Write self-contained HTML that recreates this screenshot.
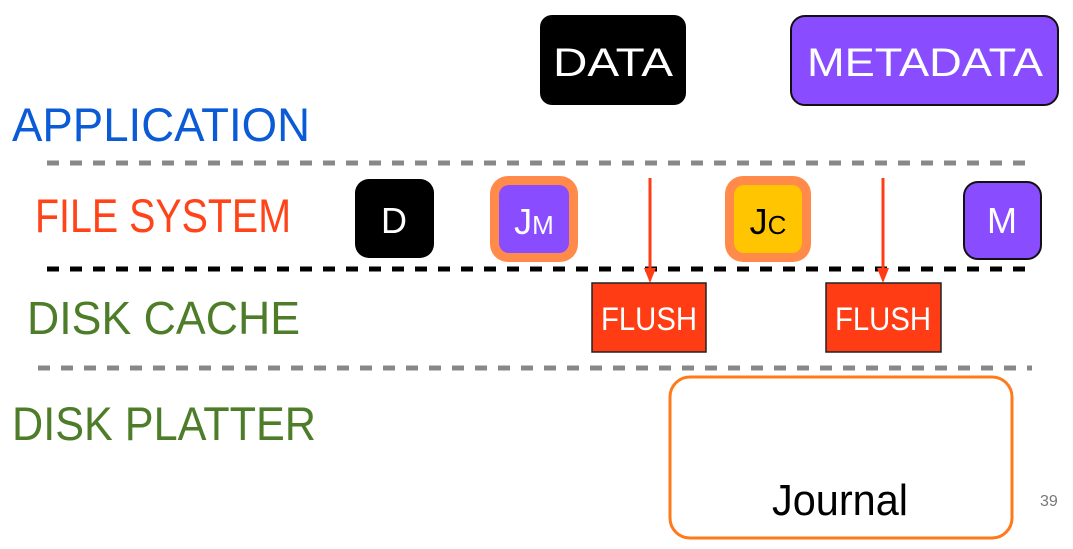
<!DOCTYPE html>
<html><head><meta charset="utf-8"><style>
html,body{margin:0;padding:0;background:#fff;}
svg{display:block;font-family:"Liberation Sans",sans-serif;}
</style></head><body>
<svg width="1073" height="549" viewBox="0 0 1073 549">
  <g>
    <text x="12" y="141" font-size="47" fill="#0b5ad6" textLength="298" lengthAdjust="spacingAndGlyphs">APPLICATION</text>
    <text x="35" y="232" font-size="47" fill="#ff4419" textLength="256" lengthAdjust="spacingAndGlyphs">FILE SYSTEM</text>
    <text x="27" y="334" font-size="46" fill="#4e7d2a" textLength="273" lengthAdjust="spacingAndGlyphs">DISK CACHE</text>
    <text x="12" y="440" font-size="47" fill="#4e7d2a" textLength="304" lengthAdjust="spacingAndGlyphs">DISK PLATTER</text>
  </g>
  <g stroke-width="5" stroke-dasharray="12 11">
    <line x1="47" y1="163" x2="1036" y2="163" stroke="#888"/>
    <line x1="47" y1="269" x2="1036" y2="269" stroke="#000"/>
    <line x1="38" y1="368" x2="1032" y2="368" stroke="#888"/>
  </g>
  <g>
    <rect x="540" y="15" width="146" height="90" rx="12" fill="#000"/>
    <text x="613" y="76" font-size="40" fill="#fff" text-anchor="middle" textLength="120" lengthAdjust="spacingAndGlyphs">DATA</text>
  </g>
  <g>
    <rect x="791" y="16" width="267" height="89" rx="14" fill="#8a4cff" stroke="#111" stroke-width="2"/>
    <text x="925" y="76" font-size="40" fill="#fff" text-anchor="middle" textLength="236" lengthAdjust="spacingAndGlyphs">METADATA</text>
  </g>
  <g>
    <rect x="355" y="179" width="79" height="79" rx="14" fill="#000"/>
    <text x="394" y="233" font-size="36" fill="#fff" text-anchor="middle">D</text>
  </g>
  <g>
    <rect x="490" y="176" width="88" height="86" rx="18" fill="#ff8a4a"/>
    <rect x="499" y="185" width="70" height="68" rx="10" fill="#8a4cff"/>
    <text x="534" y="234" font-size="36" fill="#fff" text-anchor="middle">J<tspan font-size="26">M</tspan></text>
  </g>
  <g>
    <rect x="725" y="176" width="86" height="86" rx="18" fill="#ff8a4a"/>
    <rect x="734" y="185" width="68" height="68" rx="10" fill="#ffc500"/>
    <text x="768" y="234" font-size="36" fill="#000" text-anchor="middle">J<tspan font-size="26">C</tspan></text>
  </g>
  <g>
    <rect x="964" y="182" width="77" height="77" rx="14" fill="#8a4cff" stroke="#111" stroke-width="2"/>
    <text x="1002" y="233" font-size="36" fill="#fff" text-anchor="middle">M</text>
  </g>
  <g stroke="#ff3c14" stroke-width="3" fill="#ff3c14">
    <line x1="650" y1="178" x2="650" y2="270"/>
    <polygon points="644,268 656,268 650,283" stroke="none"/>
    <line x1="883" y1="178" x2="883" y2="270"/>
    <polygon points="877,268 889,268 883,283" stroke="none"/>
  </g>
  <g>
    <rect x="592" y="283" width="114" height="69" fill="#ff3c14" stroke="#222" stroke-width="1.5"/>
    <text x="649" y="330" font-size="32" fill="#fff" text-anchor="middle" textLength="96" lengthAdjust="spacingAndGlyphs">FLUSH</text>
  </g>
  <g>
    <rect x="826" y="283" width="115" height="69" fill="#ff3c14" stroke="#222" stroke-width="1.5"/>
    <text x="883" y="330" font-size="32" fill="#fff" text-anchor="middle" textLength="96" lengthAdjust="spacingAndGlyphs">FLUSH</text>
  </g>
  <g>
    <rect x="670" y="377" width="342" height="161" rx="20" fill="#fff" stroke="#ff7a1a" stroke-width="3"/>
    <text x="840" y="515" font-size="44" fill="#000" text-anchor="middle" textLength="136" lengthAdjust="spacingAndGlyphs">Journal</text>
  </g>
  <text x="1040" y="506" font-size="16" fill="#777">39</text>
</svg>
</body></html>
